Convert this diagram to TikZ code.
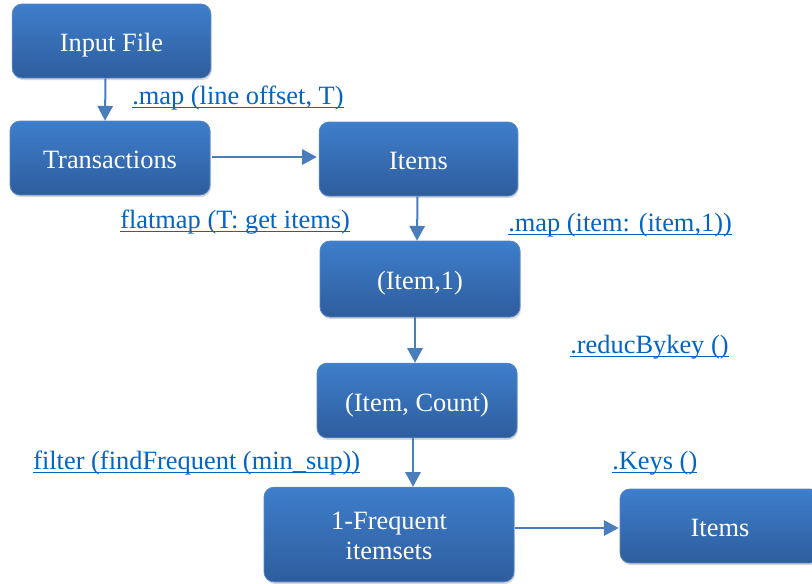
\documentclass[tikz,border=0pt]{standalone}
\usepackage{fontspec}
\setmainfont{Liberation Serif}
\usetikzlibrary{arrows.meta,shadows,calc}

\definecolor{boxtop}{RGB}{62,126,203}
\definecolor{boxbot}{RGB}{46,93,157}
\definecolor{boxedge}{RGB}{84,134,198}
\definecolor{linkblue}{RGB}{5,99,193}
\definecolor{arrowblue}{RGB}{74,126,187}

% underline drawn as a rule just below the baseline
\newcommand\linkul[1]{\setbox0\hbox{#1}\rlap{\rule[-3.3pt]{\wd0}{1.4pt}}\box0}

\begin{document}
\begin{tikzpicture}[x=0.75pt,y=-0.75pt,
  stagebox/.style={rounded corners=7.5pt, top color=boxtop, bottom color=boxbot,
    draw=boxedge, line width=0.6pt, text=white, align=center, inner sep=0pt,
    font=\fontsize{19.8}{22.5}\selectfont, text height=16pt, text depth=0pt,
    drop shadow={shadow xshift=0.8pt, shadow yshift=-1.6pt, opacity=0.3}},
  flow/.style={draw=arrowblue, line width=1.5pt, -{Triangle[length=11pt,width=11.5pt]}},
  oplabel/.style={text=linkblue, inner sep=0pt, anchor=base west,
    font=\fontsize{19.8}{23}\selectfont}]

\useasboundingbox (0,0) rectangle (812,583);

% processing stages
\node[stagebox, minimum width=149pt, minimum height=55.5pt] (input) at (111.5,41) {Input File};
\node[stagebox, minimum width=150pt, minimum height=55.5pt] (trans) at (110,158) {Transactions};
\node[stagebox, minimum width=149pt, minimum height=55.5pt] (items) at (418.5,159) {Items};
\node[stagebox, minimum width=150pt, minimum height=57pt] (pair) at (420,279) {(Item,1)};
\node[stagebox, minimum width=150pt, minimum height=56pt] (count) at (417,400.5) {(Item, Count)};
\node[stagebox, minimum width=187.5pt, minimum height=71pt, text height=38.2pt, text depth=0pt] (freq) at (389,534.5) {1-Frequent\\itemsets};
\node[stagebox, minimum width=150pt, minimum height=55.5pt] (keys) at (720,526) {Items};

% connectors
\draw[flow] ($(input.south)+(-6,0)$) -- ($(trans.north)+(-5,0)$);
\draw[flow] ($(trans.east)+(2,-1)$) -- ($(items.west)+(-2,-2)$);
\draw[flow] ($(items.south)+(-1,0)$) -- ($(pair.north)+(-3,0)$);
\draw[flow] ($(pair.south)+(-5,0)$) -- ($(count.north)+(-2,0)$);
\draw[flow] ($(count.south)+(-4,0)$) -- ($(freq.north)+(24,0)$);
\draw[flow] ($(freq.east)+(1,-6.5)$) -- ($(keys.west)+(-1,2)$);

% operation labels
\node[oplabel] (opmap) at (132,104) {\linkul{.map (line offset, T)}};
\node[oplabel] (opflat) at (120,228) {\linkul{flatmap (T: get items)}};
\node[oplabel] (oppair) at (508,231) {\linkul{.map (item: (item,1))}};
\node[oplabel] (opreduce) at (570,353) {\linkul{.reducBykey ()}};
\node[oplabel] (opfilter) at (33,469) {\linkul{filter (findFrequent (min\_sup))}};
\node[oplabel] (opkeys) at (612,469) {\linkul{.Keys ()}};
\end{tikzpicture}
\end{document}
